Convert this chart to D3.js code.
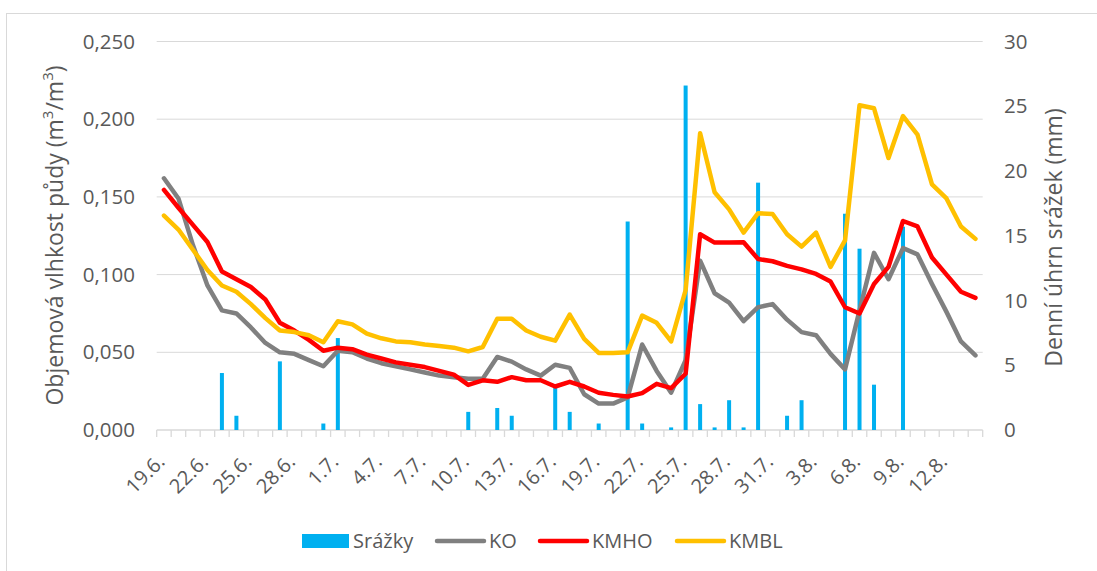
<!DOCTYPE html>
<html>
<head>
<meta charset="utf-8">
<script src="https://cdn.jsdelivr.net/npm/d3@7"></script>
<style>
  body { margin: 0; background: #fff; }
  text { font-family: "Open Sans", "Noto Sans", sans-serif; fill: #595959; }
</style>
</head>
<body>
<div id="chart"></div>
<script>
var dates = ["19.6.", "20.6.", "21.6.", "22.6.", "23.6.", "24.6.", "25.6.", "26.6.", "27.6.", "28.6.",
    "29.6.", "30.6.", "1.7.", "2.7.", "3.7.", "4.7.", "5.7.", "6.7.", "7.7.", "8.7.",
    "9.7.", "10.7.", "11.7.", "12.7.", "13.7.", "14.7.", "15.7.", "16.7.", "17.7.", "18.7.",
    "19.7.", "20.7.", "21.7.", "22.7.", "23.7.", "24.7.", "25.7.", "26.7.", "27.7.", "28.7.",
    "29.7.", "30.7.", "31.7.", "1.8.", "2.8.", "3.8.", "4.8.", "5.8.", "6.8.", "7.8.",
    "8.8.", "9.8.", "10.8.", "11.8.", "12.8.", "13.8.", "14.8."];

// denni srazky (mm)
var srazky = [0, 0, 0, 0, 4.4, 1.1, 0, 0, 5.3, 0,
    0, 0.5, 7.1, 0, 0, 0, 0, 0, 0, 0,
    0, 1.4, 0, 1.7, 1.1, 0, 0, 3.4, 1.4, 0,
    0.5, 0, 16.1, 0.5, 0, 0.2, 26.6, 2.0, 0.2, 2.3,
    0.2, 19.1, 0, 1.1, 2.3, 0, 0, 16.7, 14.0, 3.5,
    0, 15.7, 0, 0, 0, 0, 0];

var ko = [0.162, 0.149, 0.119, 0.093, 0.077, 0.075, 0.066, 0.056, 0.050, 0.049,
    0.045, 0.041, 0.051, 0.050, 0.046, 0.043, 0.041, 0.039, 0.037, 0.035,
    0.034, 0.033, 0.033, 0.047, 0.044, 0.039, 0.035, 0.042, 0.040, 0.023,
    0.017, 0.017, 0.021, 0.055, 0.038, 0.024, 0.045, 0.109, 0.088, 0.082,
    0.070, 0.079, 0.081, 0.071, 0.063, 0.061, 0.049, 0.039, 0.077, 0.114,
    0.097, 0.117, 0.113, 0.094, 0.076, 0.057, 0.048];

var kmho = [0.1545, 0.143, 0.132, 0.121, 0.102, 0.097, 0.092, 0.084, 0.069, 0.064,
    0.058, 0.051, 0.053, 0.052, 0.0485, 0.046, 0.0435, 0.042, 0.0405, 0.038,
    0.0356, 0.029, 0.032, 0.031, 0.034, 0.032, 0.032, 0.028, 0.031, 0.028,
    0.024, 0.0226, 0.0216, 0.0237, 0.0297, 0.027, 0.0362, 0.126, 0.1206, 0.1206,
    0.1208, 0.110, 0.1086, 0.1056, 0.1034, 0.1004, 0.0955, 0.079, 0.075, 0.094,
    0.105, 0.1345, 0.131, 0.111, 0.100, 0.089, 0.085];

var kmbl = [0.138, 0.129, 0.116, 0.103, 0.093, 0.089, 0.081, 0.072, 0.064, 0.063,
    0.061, 0.0565, 0.070, 0.068, 0.062, 0.059, 0.057, 0.0565, 0.055, 0.054,
    0.053, 0.0506, 0.0534, 0.0716, 0.0716, 0.064, 0.060, 0.0575, 0.0743, 0.0586,
    0.0496, 0.0496, 0.050, 0.0736, 0.069, 0.057, 0.090, 0.191, 0.153, 0.142,
    0.127, 0.1395, 0.139, 0.126, 0.118, 0.127, 0.105, 0.122, 0.209, 0.207,
    0.175, 0.202, 0.190, 0.158, 0.149, 0.131, 0.123];

var leftTicks = [0, 0.05, 0.1, 0.15, 0.2, 0.25];
var rightTicks = [0, 5, 10, 15, 20, 25, 30];

var series = [
    { name: "KO", values: ko, color: "#808080" },
    { name: "KMHO", values: kmho, color: "#FF0000" },
    { name: "KMBL", values: kmbl, color: "#FFC000" }
];

var width = 1097, height = 571;
var plot = { left: 156.7, right: 982.7, top: 41.5, bottom: 430 };

var svg = d3.select("#chart").append("svg")
    .attr("width", width)
    .attr("height", height);

// ramecek grafu
svg.append("rect")
    .attr("x", 6.5).attr("y", 13.5)
    .attr("width", width).attr("height", height)
    .attr("fill", "none").attr("stroke", "#d9d9d9");

var x = d3.scaleBand()
    .domain(dates)
    .range([plot.left, plot.right]);

var y = d3.scaleLinear().domain([0, 0.25]).range([plot.bottom, plot.top]);
var y2 = d3.scaleLinear().domain([0, 30]).range([plot.bottom, plot.top]);

var fmt = function (d) { return d3.format(".3f")(d).replace(".", ","); };

// mrizka
svg.append("g").selectAll("line").data(leftTicks.slice(1))
    .enter().append("line")
    .attr("x1", plot.left).attr("x2", plot.right)
    .attr("y1", function (d) { return y(d); })
    .attr("y2", function (d) { return y(d); })
    .attr("stroke", "#d9d9d9").attr("stroke-width", 1);

// osa x
var xAxis = svg.append("g").attr("transform", "translate(0," + plot.bottom + ")");
xAxis.append("line")
    .attr("x1", plot.left).attr("x2", plot.right)
    .attr("stroke", "#d9d9d9").attr("stroke-width", 1.3);
xAxis.selectAll("line.tick").data(d3.range(dates.length + 1))
    .enter().append("line")
    .attr("class", "tick")
    .attr("x1", function (i) { return plot.left + i * x.step(); })
    .attr("x2", function (i) { return plot.left + i * x.step(); })
    .attr("y1", 0).attr("y2", 7)
    .attr("stroke", "#d9d9d9").attr("stroke-width", 1.3);

svg.append("g").selectAll("text")
    .data(dates.filter(function (d, i) { return i % 3 === 0; }))
    .enter().append("text")
    .attr("transform", function (d) {
        return "translate(" + (x(d) + x.bandwidth() / 2 + 2) + ",463) rotate(-45)";
    })
    .attr("text-anchor", "end")
    .style("font-size", "20px")
    .text(function (d) { return d; });

// leva osa
svg.append("g").selectAll("text").data(leftTicks)
    .enter().append("text")
    .attr("x", 135).attr("y", function (d) { return y(d); })
    .attr("dy", "0.35em")
    .attr("text-anchor", "end")
    .style("font-size", "20.5px")
    .text(fmt);

// prava osa
svg.append("g").selectAll("text").data(rightTicks)
    .enter().append("text")
    .attr("x", 1004).attr("y", function (d) { return y2(d); })
    .attr("dy", "0.35em")
    .attr("text-anchor", "start")
    .style("font-size", "20.5px")
    .text(function (d) { return d; });

// popisky os
var lt = svg.append("text")
    .attr("transform", "translate(55,235.5) rotate(-90)")
    .attr("text-anchor", "middle")
    .attr("dy", "0.35em")
    .style("font-size", "23px");
lt.append("tspan").text("Objemová vlhkost půdy (m");
lt.append("tspan").attr("baseline-shift", "super").style("font-size", "15px").text("3");
lt.append("tspan").text("/m");
lt.append("tspan").attr("baseline-shift", "super").style("font-size", "15px").text("3");
lt.append("tspan").text(")");

svg.append("text")
    .attr("transform", "translate(1054,237.5) rotate(-90)")
    .attr("text-anchor", "middle")
    .attr("dy", "0.35em")
    .style("font-size", "23px")
    .text("Denní úhrn srážek (mm)");

// sloupce srazek
var barW = 4;
svg.append("g").selectAll("rect").data(srazky)
    .enter().append("rect")
    .attr("x", function (d, i) { return x(dates[i]) + x.bandwidth() / 2 - barW / 2; })
    .attr("y", function (d) { return y2(d); })
    .attr("width", barW)
    .attr("height", function (d) { return plot.bottom - y2(d); })
    .attr("fill", "#00B0F0");

// cary vlhkosti
var line = d3.line()
    .x(function (d, i) { return x(dates[i]) + x.bandwidth() / 2; })
    .y(function (d) { return y(d); });

svg.append("g").selectAll("path").data(series)
    .enter().append("path")
    .attr("d", function (s) { return line(s.values); })
    .attr("fill", "none")
    .attr("stroke", function (s) { return s.color; })
    .attr("stroke-width", 4.5)
    .attr("stroke-linejoin", "round")
    .attr("stroke-linecap", "round");

// legenda
var legY = 541;
var leg = svg.append("g");
leg.append("rect")
    .attr("x", 302).attr("y", legY - 7).attr("width", 47).attr("height", 14)
    .attr("fill", "#00B0F0");
leg.append("text").attr("x", 353).attr("y", legY).attr("dy", "0.35em")
    .style("font-size", "20px").text("Srážky");

var legLines = [
    { x: 435, s: series[0] },
    { x: 538, s: series[1] },
    { x: 675, s: series[2] }
];
legLines.forEach(function (l) {
    leg.append("line")
        .attr("x1", l.x + 2).attr("x2", l.x + 49)
        .attr("y1", legY).attr("y2", legY)
        .attr("stroke", l.s.color).attr("stroke-width", 4.5)
        .attr("stroke-linecap", "round");
    leg.append("text").attr("x", l.x + 54).attr("y", legY).attr("dy", "0.35em")
        .style("font-size", "20px").text(l.s.name);
});
</script>
</body>
</html>
